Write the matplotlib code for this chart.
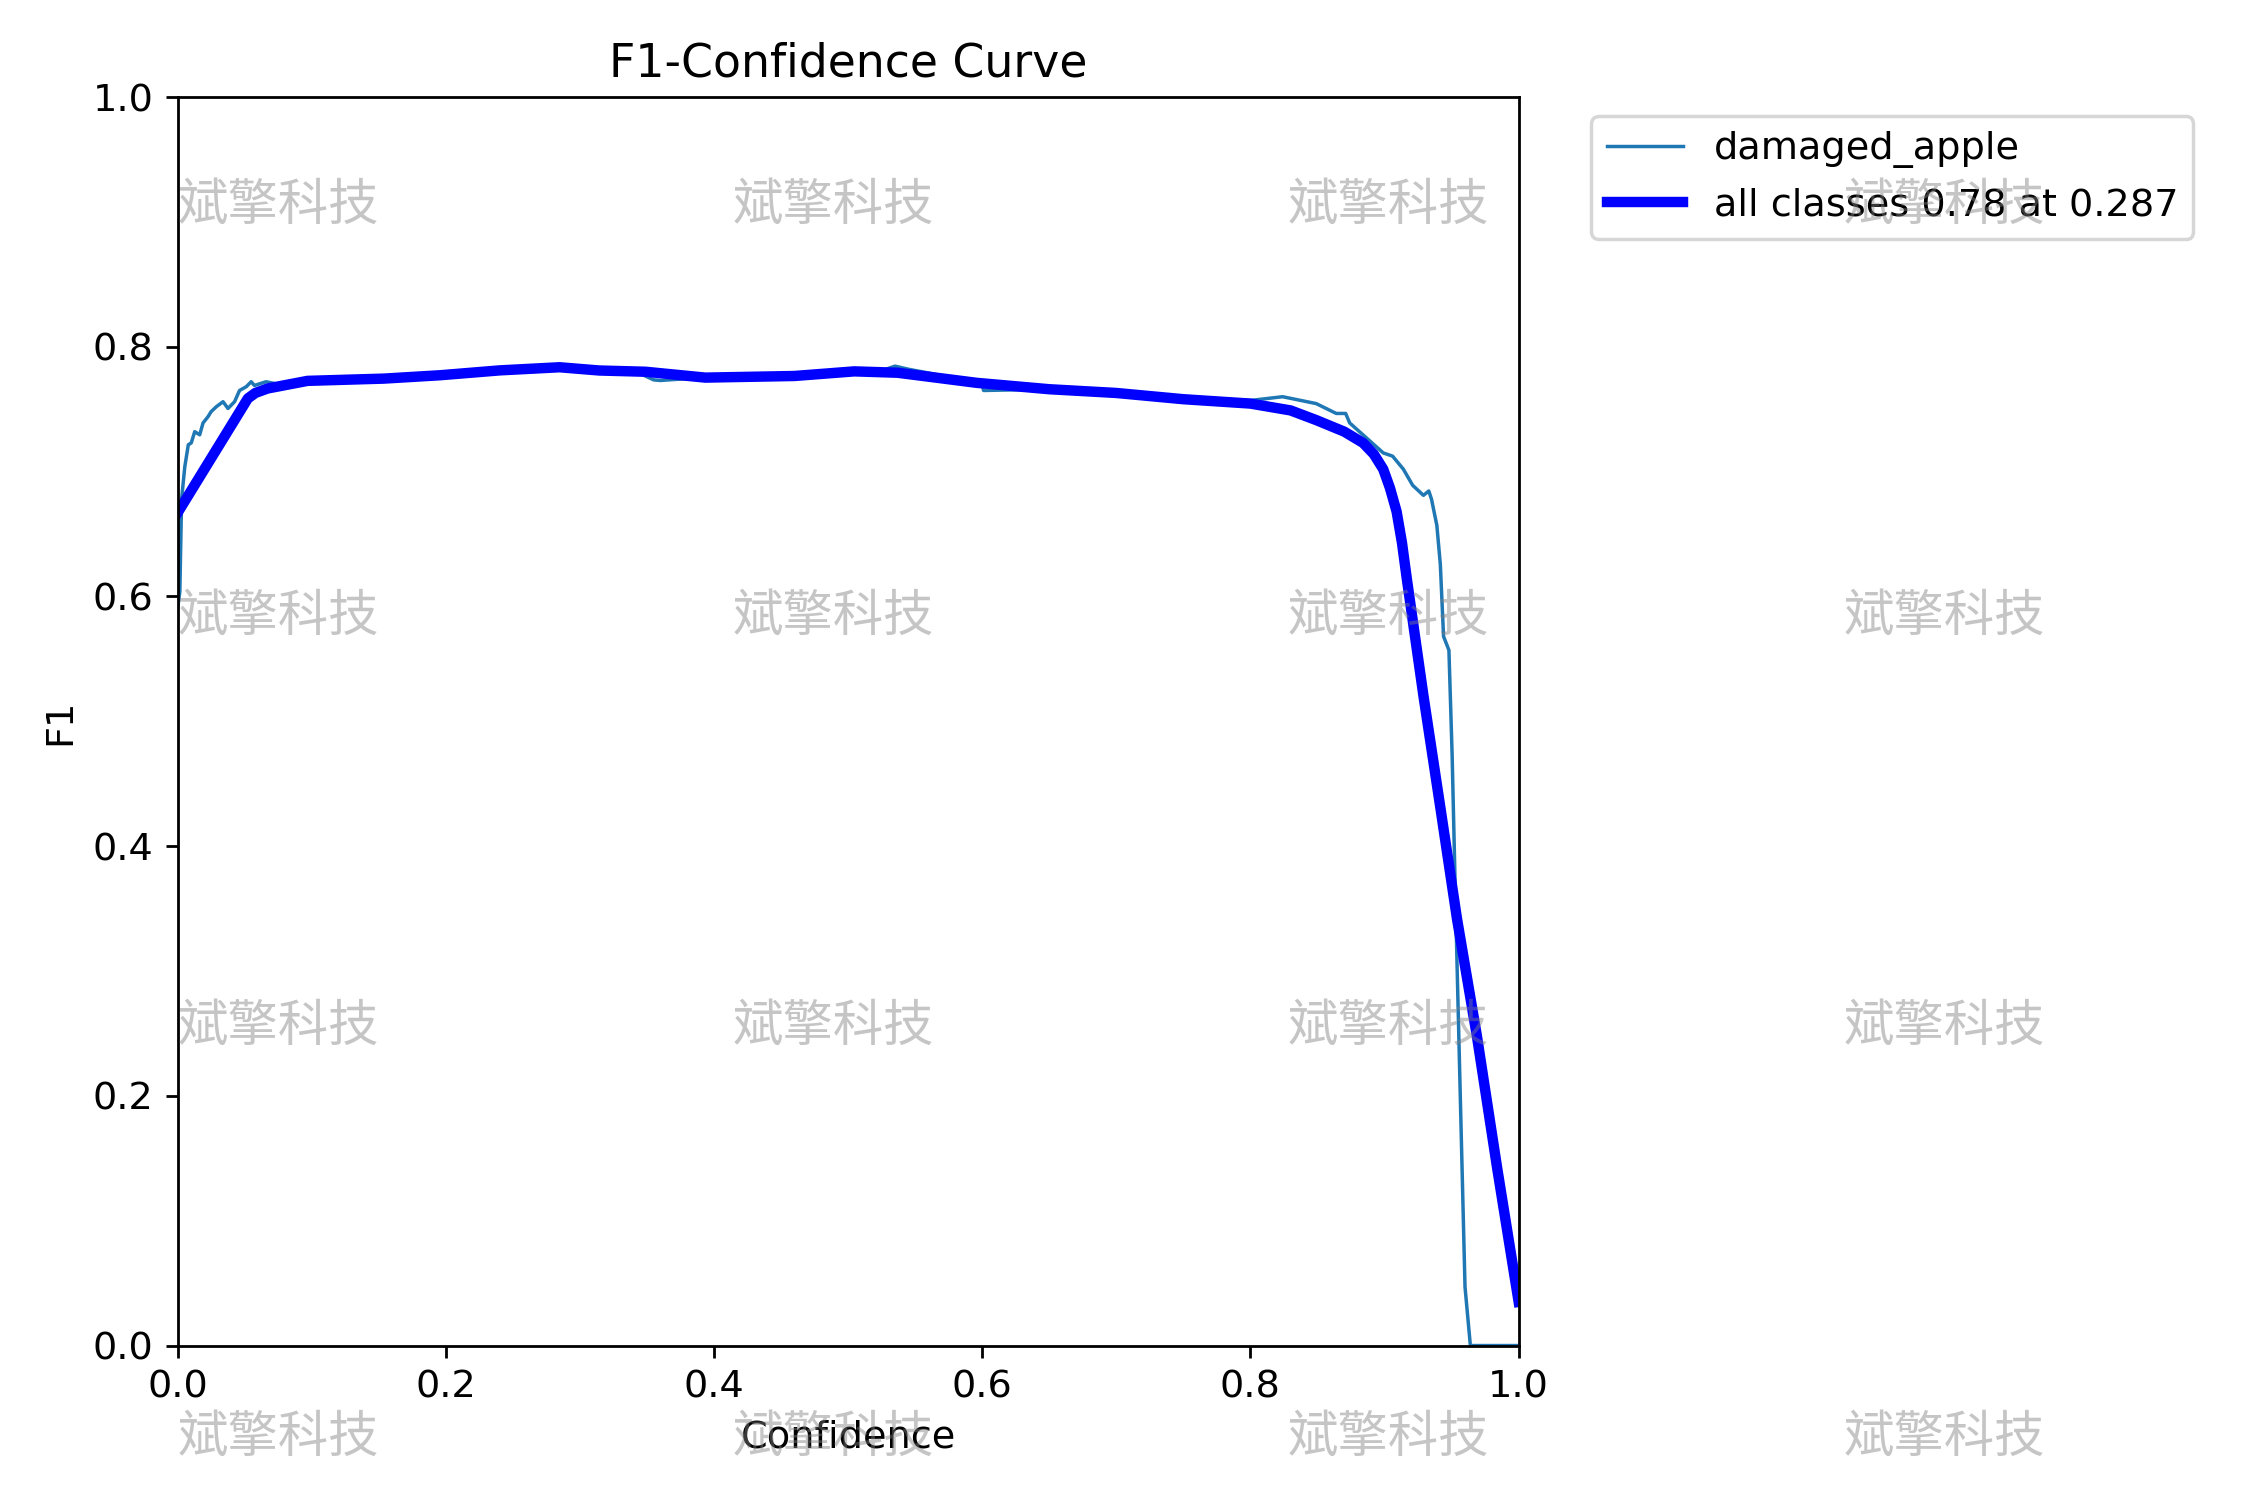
import numpy as np
import matplotlib
matplotlib.use('Agg')
import matplotlib.pyplot as plt

# damaged_apple F1 vs confidence
cls_x = [0.0, 0.0017, 0.003, 0.0054, 0.008, 0.0102, 0.0128, 0.0165, 0.019, 0.0227,
         0.025, 0.0289, 0.0339, 0.0376, 0.0425, 0.0462, 0.0512, 0.0549, 0.0573, 0.066,
         0.075, 0.10, 0.15, 0.20, 0.25, 0.29, 0.34, 0.355, 0.36, 0.38,
         0.40, 0.45, 0.50, 0.52, 0.535, 0.545, 0.56, 0.60, 0.601, 0.65,
         0.70, 0.75, 0.80, 0.824, 0.849, 0.864, 0.871, 0.874, 0.899, 0.906,
         0.914, 0.921, 0.929, 0.933, 0.935, 0.939, 0.9416, 0.944, 0.948, 0.9504,
         0.953, 0.9566, 0.960, 0.964, 1.0]
cls_y = [0.59, 0.604, 0.678, 0.704, 0.7215, 0.723, 0.732, 0.7295, 0.739, 0.744,
         0.748, 0.752, 0.756, 0.7506, 0.756, 0.765, 0.768, 0.772, 0.769, 0.772,
         0.770, 0.772, 0.775, 0.777, 0.781, 0.784, 0.781, 0.7735, 0.773, 0.7745,
         0.7755, 0.777, 0.780, 0.779, 0.7845, 0.782, 0.779, 0.770, 0.765, 0.766,
         0.7635, 0.758, 0.757, 0.760, 0.7545, 0.7466, 0.7466, 0.739, 0.715, 0.7124,
         0.702, 0.689, 0.681, 0.6845, 0.678, 0.657, 0.6257, 0.568, 0.557, 0.473,
         0.352, 0.1945, 0.047, 0.0, 0.0]

# all classes (smoothed mean)
all_x = [0.0, 0.0524, 0.058, 0.0672, 0.0969, 0.1538, 0.1958, 0.2403, 0.2848, 0.3144,
         0.349, 0.3935, 0.460, 0.5046, 0.537, 0.596, 0.65, 0.70, 0.75, 0.80,
         0.83, 0.849, 0.87, 0.884, 0.892, 0.899, 0.904, 0.909, 0.913, 0.9165,
         0.929, 0.9416, 0.954, 0.969, 0.984, 1.0]
all_y = [0.667, 0.7586, 0.763, 0.7666, 0.7727, 0.7745, 0.7772, 0.7811, 0.7836, 0.781,
         0.780, 0.7753, 0.7766, 0.7803, 0.7792, 0.7711, 0.766, 0.763, 0.758, 0.7545,
         0.749, 0.7413, 0.732, 0.723, 0.714, 0.702, 0.687, 0.668, 0.643, 0.615,
         0.5205, 0.431, 0.342, 0.247, 0.142, 0.035]

wm_text = '斌擎科技'
wm_cols = [0.1237, 0.3705, 0.6172, 0.864]
wm_rows = [0.8625, 0.5885, 0.3153, 0.0413]

plt.rcParams['font.size'] = 11

fig, ax = plt.subplots(1, 1, figsize=(9, 6))
ax.plot(cls_x, cls_y, linewidth=1, label='damaged_apple')
ax.plot(all_x, all_y, linewidth=3, color='blue', label='all classes 0.78 at 0.287')
ax.set_xlabel('Confidence')
ax.set_ylabel('F1')
ax.set_xlim(0, 1)
ax.set_ylim(0, 1)
ax.legend(bbox_to_anchor=(1.04, 1), loc='upper left')
ax.set_title('F1-Confidence Curve')
fig.tight_layout()

# watermark grid
for fy in wm_rows:
    for fx in wm_cols:
        fig.text(fx, fy, wm_text, ha='center', va='center', fontsize=14.5,
                 color='gray', alpha=0.45, family=['Noto Sans CJK SC', 'DejaVu Sans'],
                 zorder=10)

fig.savefig('out.png', dpi=250)
